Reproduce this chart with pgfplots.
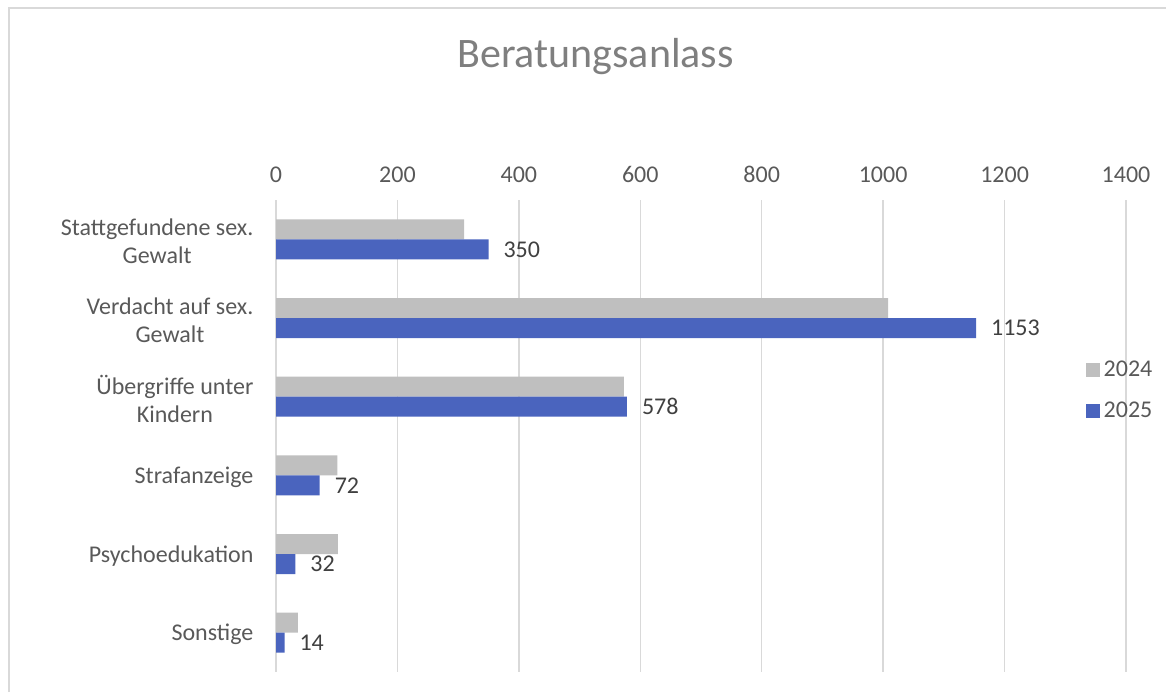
\documentclass[border=0pt]{standalone}
\usepackage{pgfplots}
\pgfplotsset{compat=1.18}
\usepackage{fontspec}
\setmainfont{Carlito}
\definecolor{gray24}{HTML}{BFBFBF}
\definecolor{blue25}{HTML}{4A64BE}
\definecolor{txt}{HTML}{595959}
\definecolor{lbl}{HTML}{404040}
\definecolor{titlec}{HTML}{7F7F7F}
\definecolor{gridc}{HTML}{D9D9D9}
\begin{document}
\begin{tikzpicture}[x=1pt,y=1pt]
\useasboundingbox (0,0) rectangle (583,346);
\draw[gridc, line width=0.75pt] (4.6,0) -- (4.6,342) -- (583,342);
\node[text=titlec, font=\fontsize{21}{25}\selectfont] at (297.75,317.5) {Beratungsanlass};
\begin{axis}[at={(138pt,10pt)}, anchor=south west, scale only axis,
  width=425pt, height=236pt,
  xmin=0, xmax=1400, ymin=-0.5, ymax=5.5, y dir=reverse,
  xbar, bar width=10pt,
  xtick={0,200,...,1400}, xticklabel pos=right,
  ytick={0,...,5},
  yticklabels={{Stattgefundene sex.\\Gewalt},{Verdacht auf sex.\\Gewalt},{Übergriffe unter\\Kindern},Strafanzeige,Psychoedukation,Sonstige},
  axis line style={draw=none}, tick style={draw=none},
  xmajorgrids, major grid style={gridc, line width=0.75pt},
  /pgf/number format/assume math mode=true,
  /pgf/number format/1000 sep={},
  xticklabel style={text=txt, font=\fontsize{12}{14}\selectfont, yshift=5pt},
  yticklabel style={text=txt, font=\fontsize{12}{14}\selectfont, align=center, xshift=-3.5pt, yshift=-1pt},
  legend style={at={(0.945,0.596)}, anchor=west, draw=none, fill=none,
    font=\fontsize{12}{14}\selectfont, text=txt, row sep=7pt},
  legend cell align=left,
  legend image code/.code={\fill[#1] (0pt,-3.5pt) rectangle (7pt,3.5pt);},
]
\addplot[draw=none, fill=gray24, bar shift=5pt]
  coordinates {(310,0) (1008,1) (573,2) (101,3) (102,4) (36,5)};
\addlegendentry{2024}
\addplot[draw=none, fill=blue25, bar shift=-5pt,
  nodes near coords,
  nodes near coords style={anchor=west, xshift=4pt, text=lbl, font=\fontsize{12}{14}\selectfont}]
  coordinates {(350,0) (1153,1) (578,2) (72,3) (32,4) (14,5)};
\addlegendentry{2025}
\end{axis}
\end{tikzpicture}
\end{document}
